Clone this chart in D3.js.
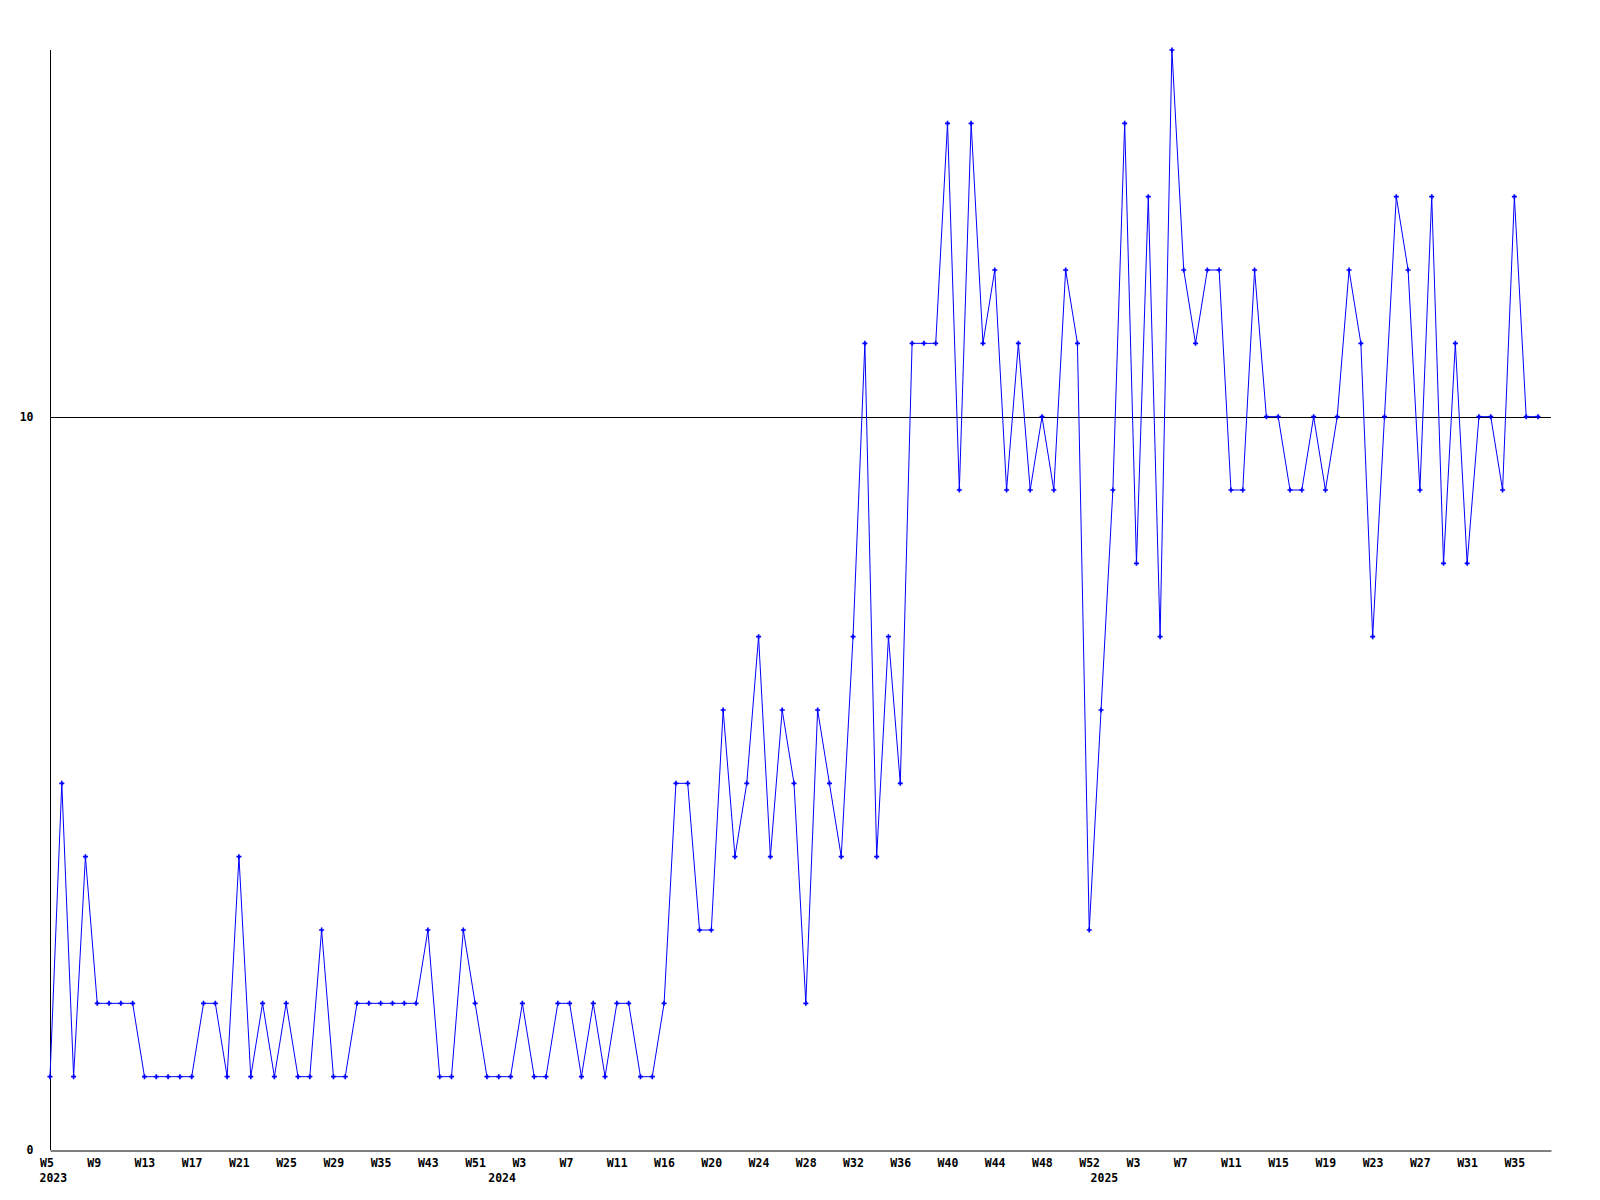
<!DOCTYPE html>
<html>
<head>
<meta charset="utf-8">
<script src="https://cdn.jsdelivr.net/npm/d3@7"></script>
<style>
	body { margin: 0; background: #fff; }
	svg { display: block; }
	text { font-family: 'DejaVu Sans Mono', 'Liberation Mono', monospace; font-weight: bold; font-size: 11.5px; fill: #000; }
</style>
</head>
<body>
<div id="chart"></div>
<script>
// weekly counts, one per week shown on the axis (some weeks have no data)
var counts = [
	1, 5, 1, 4, 2, 2, 2, 2, 1, 1, 1, 1, 1, 2, 2, 1, 4, 1, 2, 1,
	2, 1, 1, 3, 1, 1, 2, 2, 2, 2, 2, 2, 3, 1, 1, 3, 2, 1, 1, 1,
	2, 1, 1, 2, 2, 1, 2, 1, 2, 2, 1, 1, 2, 5, 5, 3, 3, 6, 4, 5,
	7, 4, 6, 5, 2, 6, 5, 4, 7, 11, 4, 7, 5, 11, 11, 11, 14, 9, 14, 11,
	12, 9, 11, 9, 10, 9, 12, 11, 3, 6, 9, 14, 8, 13, 7, 15, 12, 11, 12, 12,
	9, 9, 12, 10, 10, 9, 9, 10, 9, 10, 12, 11, 7, 10, 13, 12, 9, 13, 8, 11,
	8, 10, 10, 9, 13, 10, 10
];

// one label for every 4th week
var weekLabels = [
	'W5', 'W9', 'W13', 'W17', 'W21', 'W25', 'W29', 'W35',
	'W43', 'W51', 'W3', 'W7', 'W11', 'W16', 'W20', 'W24',
	'W28', 'W32', 'W36', 'W40', 'W44', 'W48', 'W52', 'W3',
	'W7', 'W11', 'W15', 'W19', 'W23', 'W27', 'W31', 'W35'
];
var labelEvery = 4;

var years = ['2023', '2024', '2025'];
var yearStartIndex = [0, 38, 89];

var yTicks = [0, 10];
var yMax = 15;

var width = 1600, height = 1200;
var margin = { top: 50, right: 49, bottom: 50, left: 50 };
var labelShift = -10.5; // labels start a bit left of their week

var svg = d3.select('#chart').append('svg')
	.attr('width', width)
	.attr('height', height);

var x = d3.scaleLinear()
	.domain([0, counts.length + 0.1])
	.range([margin.left, width - margin.right]);

var y = d3.scaleLinear()
	.domain([0, yMax])
	.range([height - margin.bottom, margin.top]);

// reference line at 10
svg.append('line')
	.attr('x1', x.range()[0]).attr('x2', x.range()[1])
	.attr('y1', Math.round(y(10)) + 0.5).attr('y2', Math.round(y(10)) + 0.5)
	.attr('stroke', '#000').attr('stroke-width', 1);

// y axis
var yAxis = svg.append('g')
	.attr('transform', 'translate(' + (margin.left + 0.5) + ',0)')
	.call(d3.axisLeft(y).tickValues(yTicks).tickFormat(d3.format('d')).tickSize(0).tickPadding(17));
yAxis.select('.domain').attr('stroke', '#000').attr('d', 'M0,' + y.range()[0] + 'V' + y.range()[1]);
yAxis.selectAll('text').attr('font-family', null).attr('font-size', null);

// x axis
var xAxis = svg.append('g')
	.attr('transform', 'translate(0,' + (y(0) + 0.5) + ')')
	.call(d3.axisBottom(x)
		.tickValues(weekLabels.map(function (l, i) { return i * labelEvery; }))
		.tickFormat(function (d) { return weekLabels[d / labelEvery]; })
		.tickSize(0)
		.tickPadding(8));
xAxis.select('.domain').attr('stroke', '#000');
xAxis.selectAll('.tick text')
	.attr('font-family', null).attr('font-size', null)
	.attr('text-anchor', 'start')
	.attr('x', labelShift);

// year labels under the first week of each year
xAxis.selectAll('.year')
	.data(years)
	.enter().append('text')
	.attr('class', 'year')
	.attr('x', function (d, i) { return x(yearStartIndex[i]) + labelShift; })
	.attr('y', 23)
	.attr('dy', '0.71em')
	.attr('text-anchor', 'start')
	.text(function (d) { return d; });

// the series
var line = d3.line()
	.x(function (d, i) { return x(i); })
	.y(function (d) { return y(d); });

svg.append('path')
	.datum(counts)
	.attr('fill', 'none')
	.attr('stroke', '#0000ff')
	.attr('stroke-width', 1)
	.attr('d', line);

svg.selectAll('.marker')
	.data(counts)
	.enter().append('path')
	.attr('class', 'marker')
	.attr('fill', '#0000ff')
	.attr('transform', function (d, i) { return 'translate(' + x(i) + ',' + y(d) + ')'; })
	.attr('d', d3.symbol(d3.symbolCross, 14));
</script>
</body>
</html>
